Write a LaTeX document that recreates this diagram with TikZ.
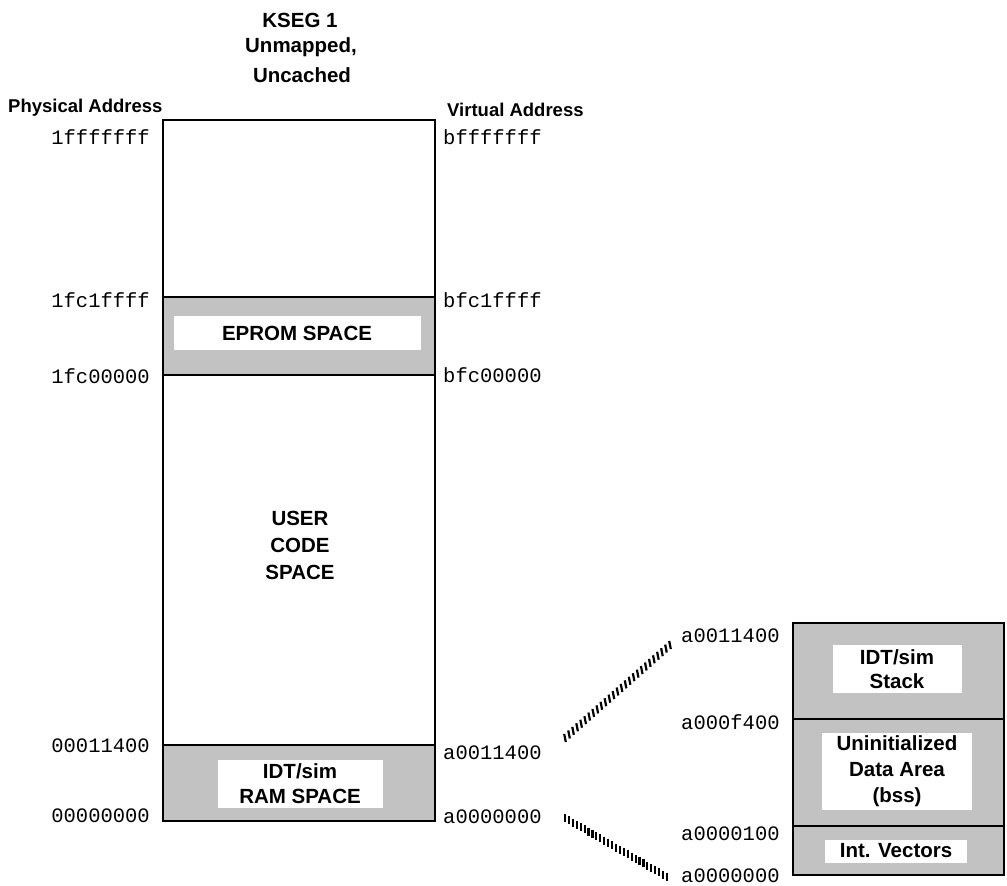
\documentclass[tikz,border=0pt]{standalone}
\usepackage{fontspec}
\setmainfont{Liberation Sans}
\newfontfamily\hexfont{Liberation Mono}
\usetikzlibrary{calc}
\begin{document}
\begin{tikzpicture}[x=1pt,y=-1pt,
  lbl/.style={font=\fontsize{20.5}{27}\selectfont\bfseries, align=center, inner sep=0pt},
  head/.style={font=\fontsize{18.5}{24}\selectfont\bfseries, inner sep=0pt},
  hex/.style={font=\fontsize{20.5}{24}\selectfont\hexfont, inner sep=0pt},
  region/.style={draw, line width=1.7pt},
  shade/.style={region, fill=black!24},
  wbox/.style={lbl, fill=white},
  tick/.style={line width=2.2pt}]
\useasboundingbox (0,0) rectangle (1007,886);

% titles
\node[lbl] (t1) at (300,20) {KSEG 1};
\node[lbl] (t2) at (301,47) {Unmapped,};
\node[lbl] (t3) at (302,75) {Uncached};
\node[head, anchor=west] (phys) at (8,108) {Physical Address};
\node[head, anchor=west] (virt) at (447,110) {Virtual Address};

% main memory column
\draw[region] (163,120) rectangle (435,821);
\draw[shade] (163,297) rectangle (435,375);
\draw[shade] (163,745) rectangle (435,821);
\node[wbox, minimum width=247pt, minimum height=34pt] (eprom) at (297,333) {EPROM SPACE};
\node[lbl] (user) at (300,545) {USER\\CODE\\SPACE};
\node[wbox, minimum width=165pt, minimum height=48pt, font=\fontsize{20.5}{25}\selectfont\bfseries] (ram) at (300,784) {IDT/sim\\RAM SPACE};

% physical addresses
\node[hex, anchor=east] (p1) at (150,137) {1fffffff};
\node[hex, anchor=east] (p2) at (150,300) {1fc1ffff};
\node[hex, anchor=east] (p3) at (150,376) {1fc00000};
\node[hex, anchor=east] (p4) at (150,746) {00011400};
\node[hex, anchor=east] (p5) at (150,816) {00000000};

% virtual addresses
\node[hex, anchor=west] (v1) at (443,137) {bfffffff};
\node[hex, anchor=west] (v2) at (443,300) {bfc1ffff};
\node[hex, anchor=west] (v3) at (443,375) {bfc00000};
\node[hex, anchor=west] (v4) at (443,753) {a0011400};
\node[hex, anchor=west] (v5) at (443,817) {a0000000};

% detail column
\draw[shade] (793,623) rectangle (1004,719);
\draw[shade] (793,719) rectangle (1004,826);
\draw[shade] (793,826) rectangle (1004,875);
\node[wbox, minimum width=129pt, minimum height=48pt, font=\fontsize{20.5}{24}\selectfont\bfseries] (stack) at (897,669) {IDT/sim\\Stack};
\node[wbox, minimum width=150pt, minimum height=77pt, font=\fontsize{20.5}{26}\selectfont\bfseries] (bss) at (897,771) {Uninitialized\\Data Area\\(bss)};
\node[wbox, minimum width=142pt, minimum height=23pt] (vec) at (896,851) {Int. Vectors};

\node[hex, anchor=west] (d1) at (681,636) {a0011400};
\node[hex, anchor=west] (d2) at (681,722) {a000f400};
\node[hex, anchor=west] (d3) at (681,834) {a0000100};
\node[hex, anchor=west] (d4) at (681,876) {a0000000};

% hatched connectors
\coordinate (h1s) at (565,738);
\coordinate (h1e) at (670,645);
\coordinate (h2s) at (565,818);
\coordinate (h2e) at (667,877);
\foreach \i in {0,...,26} {
  \draw[tick] ($(h1s)!{\i/26}!(h1e)$) +(-0.8,-4) -- +(0.8,4);
  \draw[tick] ($(h2s)!{\i/26}!(h2e)$) +(0,-4) -- +(0,4);
}
\end{tikzpicture}
\end{document}
